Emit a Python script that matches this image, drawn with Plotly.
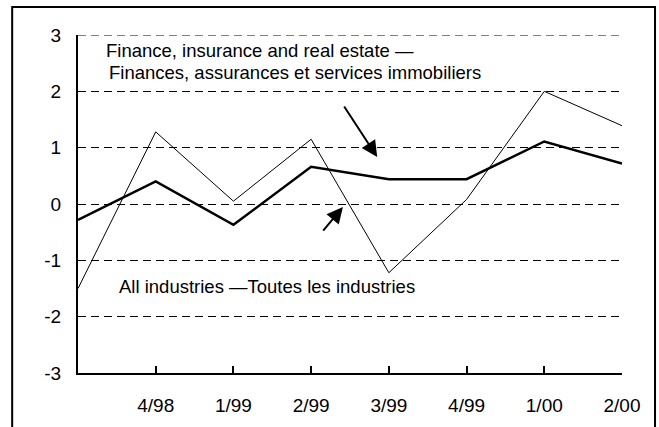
import plotly.graph_objects as go

# Quarters (first one is not labelled on the axis)
quarters = ["3/98", "4/98", "1/99", "2/99", "3/99", "4/99", "1/00", "2/00"]
finance = [-1.5, 1.28, 0.05, 1.15, -1.22, 0.08, 2.0, 1.39]
all_industries = [-0.28, 0.40, -0.37, 0.66, 0.44, 0.44, 1.11, 0.72]
tick_labels = quarters[1:]
y_ticks = [-3, -2, -1, 0, 1, 2, 3]
y_tick_text = ["-3", "-2", "-1", "0", "1", "2", "3"]

FONT = "Liberation Sans, Arial, sans-serif"

fig = go.Figure()

# Finance line (thin)
fig.add_trace(go.Scatter(
    x=quarters, y=finance, mode="lines",
    line=dict(color="black", width=1),
))

# All industries line (thick)
fig.add_trace(go.Scatter(
    x=quarters, y=all_industries, mode="lines",
    line=dict(color="black", width=2.5),
))

# Texts and arrows
annotations = [
    dict(text="Finance, insurance and real estate —", x=0.048, y=0.953,
         xanchor="left", yanchor="middle", showarrow=False),
    dict(text="Finances, assurances et services immobiliers", x=0.054, y=0.888,
         xanchor="left", yanchor="middle", showarrow=False),
    dict(text="All industries —Toutes les industries", x=0.072, y=0.257,
         xanchor="left", yanchor="middle", showarrow=False),
    dict(text="", x=0.550, y=0.639, ax=-34, ay=-52, showarrow=True,
         arrowhead=2, arrowsize=1.6, arrowwidth=2, arrowcolor="black"),
    dict(text="", x=0.487, y=0.491, ax=-21, ay=25, showarrow=True,
         arrowhead=2, arrowsize=1.6, arrowwidth=2, arrowcolor="black"),
]
for a in annotations:
    a.update(xref="paper", yref="paper", font=dict(family=FONT, size=18.5, color="black"))

fig.update_layout(
    width=659, height=427,
    margin=dict(l=78, r=37, t=35, b=54),
    paper_bgcolor="white",
    plot_bgcolor="white",
    showlegend=False,
    font=dict(family=FONT, size=19, color="black"),
    annotations=annotations,
    xaxis=dict(
        type="category",
        range=[0, 7],
        tickvals=tick_labels,
        ticktext=tick_labels,
        ticks="inside",
        ticklen=7,
        tickwidth=1.5,
        tickcolor="black",
        showline=True,
        linecolor="black",
        linewidth=2,
        showgrid=False,
        zeroline=False,
        ticklabelstandoff=14,
    ),
    yaxis=dict(
        range=[-3, 3],
        tickvals=y_ticks,
        ticktext=y_tick_text,
        showline=True,
        linecolor="black",
        linewidth=2,
        showgrid=True,
        gridcolor="black",
        gridwidth=1,
        griddash="8px,5px",
        zeroline=False,
        ticks="",
        ticklabelstandoff=11,
    ),
    shapes=[
        # outer frame
        dict(type="rect", xref="paper", yref="paper",
             x0=-0.121, x1=1.0607, y0=-0.25, y1=1.083,
             line=dict(color="black", width=2)),
        # top gridline (plotly hides the one on the plot edge)
        dict(type="line", xref="paper", yref="y",
             x0=0, x1=1, y0=y_ticks[-1], y1=y_ticks[-1],
             line=dict(color="black", width=1, dash="8px,5px")),
    ],
)

fig.write_html("out.html", config={"displayModeBar": False},
               post_script="document.body.style.margin='0';")
